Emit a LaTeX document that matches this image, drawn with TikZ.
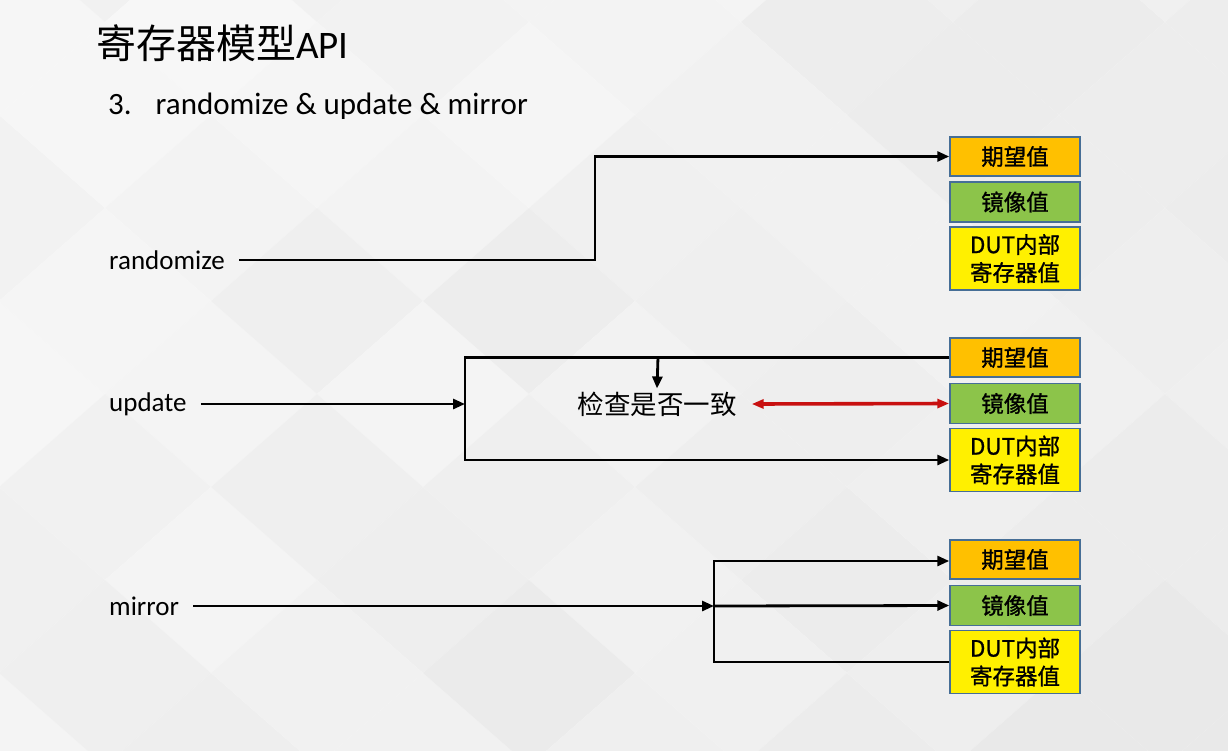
\documentclass[tikz,border=0pt]{standalone}
\usepackage{fontspec}
\setmainfont{Carlito}
\newfontfamily\cjk{Noto Sans CJK SC}
\newfontfamily\cjkb[FakeBold=1]{Noto Sans CJK SC}
\usetikzlibrary{arrows.meta}
\definecolor{exporange}{RGB}{255,192,0}
\definecolor{mirgreen}{RGB}{140,196,74}
\definecolor{dutyellow}{RGB}{255,240,0}
\definecolor{boxedge}{RGB}{70,110,150}
\definecolor{darkred}{RGB}{200,16,16}
\tikzset{
  regbox/.style={draw=boxedge, line width=1.5pt, minimum width=130pt, inner sep=0pt, align=center, font=\cjkb\fontsize{22.5}{28}\selectfont},
  expbox/.style={regbox, fill=exporange, minimum height=39pt},
  mirbox/.style={regbox, fill=mirgreen, minimum height=40pt},
  dutbox/.style={regbox, fill=dutyellow, minimum height=63pt},
  lbl/.style={anchor=west, inner sep=0pt, font=\fontsize{27}{32}\selectfont},
  wire/.style={line width=2.8pt, black},
  conn/.style={wire, -{Triangle[length=12pt,width=10pt]}},
  redconn/.style={line width=3.6pt, darkred, {Triangle[length=12pt,width=9pt]}-{Triangle[length=12pt,width=9pt]}},
}
\begin{document}
\begin{tikzpicture}[x=1pt,y=-1pt]
\useasboundingbox (0,0) rectangle (1228,750);
% background
\fill[white] (0,0) rectangle (1228,750);
\pgfmathsetseed{7}
\foreach \a in {-8,...,10}{
  \foreach \b in {-9,...,2}{
    \pgfmathsetmacro{\cx}{317+106*(2*\a+mod(\b+20,2))}
    \pgfmathsetmacro{\cy}{673+93*\b}
    \pgfmathsetmacro{\sh}{2.5+rnd*3+max(0,min(1,(\cx+\cy)/1900))*4}
    \fill[black!\sh] (\cx-106,\cy) -- (\cx,\cy-93) -- (\cx+106,\cy) -- (\cx,\cy+93) -- cycle;
  }
}
% title
\node[anchor=west, inner sep=0pt, font=\cjk\fontsize{40}{44}\selectfont] (title) at (96,43) {寄存器模型\fontspec{Carlito}\fontsize{39}{44}\selectfont API};
\node[anchor=west, inner sep=0pt, font=\fontsize{31}{36}\selectfont] (sub) at (108,106) {3.\hspace{24pt}randomize \& update \& mirror};
% group 1
\node[expbox] (e1) at (1015,156.5) {期望值};
\node[mirbox] (m1) at (1015,202) {镜像值};
\node[dutbox] (d1) at (1015,258.5) {DUT内部\\寄存器值};
% group 2
\node[expbox] (e2) at (1015,357.5) {期望值};
\node[mirbox] (m2) at (1015,403.5) {镜像值};
\node[dutbox] (d2) at (1015,460) {DUT内部\\寄存器值};
% group 3
\node[expbox] (e3) at (1015,559.5) {期望值};
\node[mirbox] (m3) at (1015,605.5) {镜像值};
\node[dutbox] (d3) at (1015,662) {DUT内部\\寄存器值};
% labels
\node[lbl] (lr) at (109,260) {randomize};
\node[lbl] (lu) at (109,404) {update};
\node[lbl] (lm) at (109,606) {mirror};
\node[inner sep=3pt, font=\cjk\fontsize{26.5}{30}\selectfont] (chk) at (657,404) {检查是否一致};
% coordinates
\coordinate (jU) at (465,404);
\coordinate (jB) at (465,460);
\coordinate (jT) at (658,357);
\coordinate (jM) at (714,606);
\coordinate (jM2) at (714,561);
% randomize
\draw[conn] ([xshift=14pt]lr.east) -- (595,260) |- (e1.west);
% update
\draw[conn] ([xshift=14pt]lu.east) -- (jU);
\draw[conn] (e2.west) -| (jB) -- (d2.west);
\draw[conn] (jT) -- (chk.north);
\draw[redconn] ([xshift=12pt]chk.east) -- (m2.west);
% mirror
\draw[conn] ([xshift=14pt]lm.east) -- (jM);
\draw[conn] (jM) -- (m3.west);
\draw[conn] (d3.west) -| (jM2) -- (e3.west |- jM2);
\end{tikzpicture}
\end{document}
